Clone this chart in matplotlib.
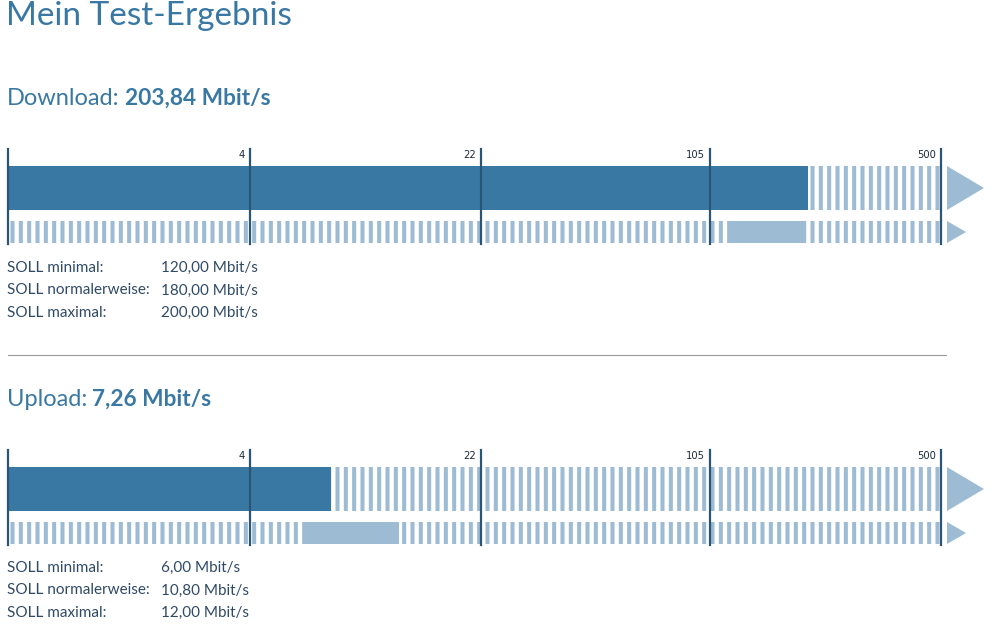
import numpy as np
import matplotlib
matplotlib.use('Agg')
import matplotlib.pyplot as plt
from matplotlib.patches import Polygon
from matplotlib.transforms import blended_transform_factory

# data
scale_breaks = [0, 4, 22, 105, 500]
tick_values = [4, 22, 105, 500]
tick_labels = ['4', '22', '105', '500']
soll_labels = ['SOLL minimal:', 'SOLL normalerweise:', 'SOLL maximal:']

download_value = 203.84
download_soll = [120.0, 180.0, 200.0]
download_soll_text = ['120,00 Mbit/s', '180,00 Mbit/s', '200,00 Mbit/s']

upload_value = 7.26
upload_soll = [6.0, 10.8, 12.0]
upload_soll_text = ['6,00 Mbit/s', '10,80 Mbit/s', '12,00 Mbit/s']

# style
W, H = 995, 640
dark = '#3a78a4'
light = '#9dbbd2'
line_col = '#2b5575'
text_col = '#2f4a66'
font = 'Lato'

plt.rcParams['font.family'] = [font, 'DejaVu Sans']
plt.rcParams['hatch.linewidth'] = 2.9

fig = plt.figure(figsize=(W / 100, H / 100), dpi=100)
renderer = fig.canvas.get_renderer()

# piecewise log scale: each segment between breaks has roughly equal width
seg_px = [0, 242, 473, 702, 933]


def fwd(v):
    v = np.asarray(v, dtype=float)
    lg = np.interp(np.log(np.clip(v, 1e-9, None)), np.log(scale_breaks[1:]), seg_px[1:])
    return np.where(v < 4, v / 4 * seg_px[1], lg)


def inv(p):
    p = np.asarray(p, dtype=float)
    ex = np.exp(np.interp(p, seg_px[1:], np.log(scale_breaks[1:])))
    return np.where(p < seg_px[1], p / seg_px[1] * 4, ex)


def ftext(x, y, s, **kw):
    return fig.text(x / W, 1 - y / H, s, **kw)


def heading(y, label, value_text):
    t = ftext(7, y, label, fontsize=17, color=dark, va='baseline')
    bb = t.get_window_extent(renderer)
    ftext(bb.x1 + 5, y, value_text, fontsize=16.3, color=dark, va='baseline', fontweight='bold')


def soll_block(y0, values_text):
    for i, (lab, val) in enumerate(zip(soll_labels, values_text)):
        ftext(7, y0 + i * 22.5, lab, fontsize=11, color=text_col, va='baseline')
        ftext(161, y0 + i * 22.5, val, fontsize=11, color=text_col, va='baseline')


def bar_section(top, value, soll):
    ax = fig.add_axes([8 / W, 1 - (top + 95) / H, 933 / W, 95 / H])
    ax.set_xscale('function', functions=(fwd, inv))
    ax.set_xlim(0, 500)
    ax.set_ylim(95, 0)
    ax.axis('off')

    # upper row: measured value, rest striped
    ax.barh(39, 500 - value, left=value, height=44, facecolor='white',
            edgecolor=light, hatch='||', linewidth=0)
    ax.barh(39, value, left=0, height=44, color=dark, linewidth=0)

    # lower row: striped scale with SOLL min..max range
    ax.barh(83, 500, left=0, height=22, facecolor='white',
            edgecolor=light, hatch='||', linewidth=0)
    ax.barh(83, soll[2] - soll[0], left=soll[0], height=22, color=light, linewidth=0)

    for v in [0] + tick_values:
        ax.axvline(v, 0, 1, color=line_col, lw=1.6, clip_on=False)
    for v, lab in zip(tick_values, tick_labels):
        ax.annotate(lab, (v, 6), xytext=(-5, 0), textcoords='offset pixels',
                    ha='right', va='center', fontsize=7.2, color='#1c2a38',
                    family='DejaVu Sans')

    tr = blended_transform_factory(ax.transAxes, ax.transData)
    ax.add_patch(Polygon([(1.0064, 17), (1.046, 39), (1.0064, 61)], closed=True,
                         color=light, transform=tr, clip_on=False, lw=0))
    ax.add_patch(Polygon([(1.0064, 72), (1.0268, 83), (1.0064, 94)], closed=True,
                         color=light, transform=tr, clip_on=False, lw=0))


ftext(6, 25, 'Mein Test-Ergebnis', fontsize=24, color=dark, va='baseline')

heading(105, 'Download:', '203,84 Mbit/s')
bar_section(149, download_value, download_soll)
soll_block(272, download_soll_text)

fig.add_artist(plt.Line2D([8 / W, 946 / W], [1 - 355 / H, 1 - 355 / H],
                          color='#999999', lw=0.8))

heading(406, 'Upload:', '7,26 Mbit/s')
bar_section(450, upload_value, upload_soll)
soll_block(572, upload_soll_text)

fig.savefig('out.png', dpi=100)
